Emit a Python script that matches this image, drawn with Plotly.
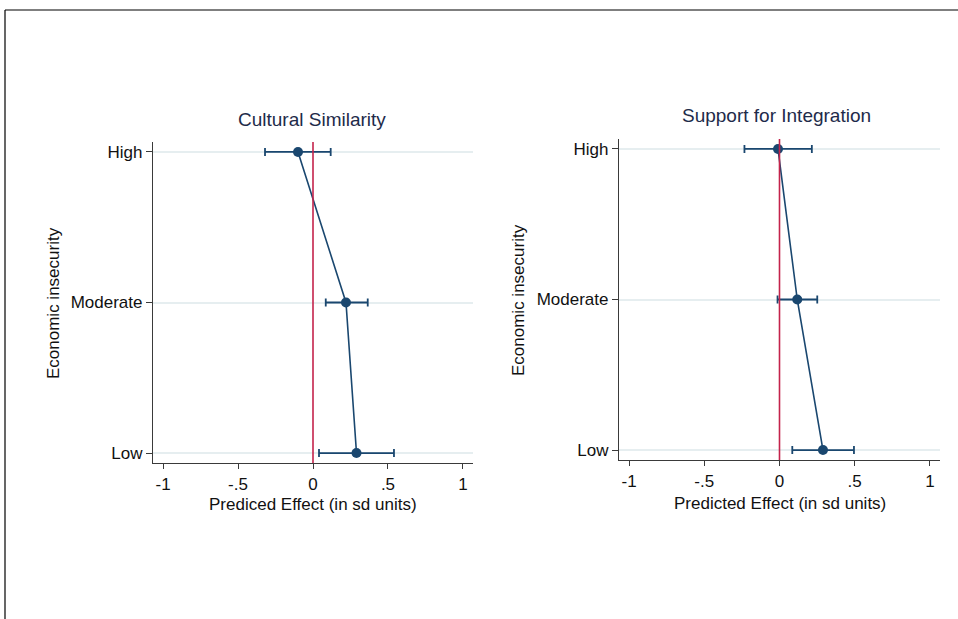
import plotly.graph_objects as go

W, H = 958, 619

levels = ["High", "Moderate", "Low"]
level_pos = [2, 1, 0]

cult_est = [-0.10, 0.22, 0.29]
cult_lo = [-0.32, 0.085, 0.04]
cult_hi = [0.118, 0.365, 0.54]

integ_est = [-0.01, 0.118, 0.289]
integ_lo = [-0.233, -0.013, 0.085]
integ_hi = [0.215, 0.251, 0.495]

xticks = [-1, -0.5, 0, 0.5, 1]
xticklabels = ["-1", "-.5", "0", ".5", "1"]

panel_titles = ["Cultural Similarity", "Support for Integration"]
x_titles = ["Prediced Effect (in sd units)", "Predicted Effect (in sd units)"]
y_title = "Economic insecurity"

NAVY = "#1a476f"
RED = "#c4234b"
GRID = "#e6eef0"
AX = "#3a3a3a"
FONT = "Liberation Sans, Arial, sans-serif"

# panel pixel boxes: left, right, top, bottom
boxes = [(153, 473, 142, 463), (619, 940, 139, 460)]

fig = go.Figure()

series = [(cult_est, cult_lo, cult_hi), (integ_est, integ_lo, integ_hi)]
for i, (est, lo, hi) in enumerate(series):
    xa = "x" if i == 0 else "x2"
    ya = "y" if i == 0 else "y2"
    fig.add_trace(go.Scatter(
        x=est, y=level_pos, mode="lines+markers",
        line=dict(color=NAVY, width=1.6),
        marker=dict(color=NAVY, size=10),
        error_x=dict(type="data", symmetric=False,
                     array=[h - e for h, e in zip(hi, est)],
                     arrayminus=[e - l for e, l in zip(est, lo)],
                     color=NAVY, thickness=1.8, width=4),
        xaxis=xa, yaxis=ya, showlegend=False, cliponaxis=False))

def frac_x(px):
    return px / W

def frac_y(py):
    return 1 - py / H

for i, (l, r, t, b) in enumerate(boxes):
    sfx = "" if i == 0 else "2"
    xax = dict(domain=[frac_x(l), frac_x(r)], range=[-1.067, 1.067],
               tickvals=xticks, ticktext=xticklabels,
               showline=True, linecolor=AX, linewidth=1.2,
               ticks="outside", ticklen=5, tickcolor=AX, tickwidth=1,
               showgrid=False, zeroline=False,
               tickfont=dict(family=FONT, size=17, color="#111"),
               anchor="y" + sfx, fixedrange=True)
    yax = dict(domain=[frac_y(b), frac_y(t)], range=[-0.066, 2.066],
               tickvals=level_pos, ticktext=levels,
               showline=True, linecolor=AX, linewidth=1.2,
               ticks="outside", ticklen=6, tickcolor=AX, tickwidth=1,
               showgrid=True, gridcolor=GRID, gridwidth=1.5,
               zeroline=False,
               tickfont=dict(family=FONT, size=17, color="#111"),
               anchor="x" + sfx, fixedrange=True)
    fig.update_layout(**{"xaxis" + sfx: xax, "yaxis" + sfx: yax})
    # red reference line at 0
    fig.add_shape(type="line", xref="x" + sfx, yref="y" + sfx + " domain",
                  x0=0, x1=0, y0=0, y1=1, line=dict(color=RED, width=1.6),
                  layer="above")

# titles
title_pos = [(312, 119), (776, 116)]
xt_pos = [(313, 504), (780, 503)]
yt_pos = [(53, 303), (518, 300)]
for i in range(2):
    fig.add_annotation(text=panel_titles[i], x=frac_x(title_pos[i][0]), y=frac_y(title_pos[i][1]),
                       xref="paper", yref="paper", showarrow=False, xanchor="center", yanchor="middle",
                       font=dict(family=FONT, size=19, color="#1e2b4a"))
    fig.add_annotation(text=x_titles[i], x=frac_x(xt_pos[i][0]), y=frac_y(xt_pos[i][1]),
                       xref="paper", yref="paper", showarrow=False, xanchor="center", yanchor="middle",
                       font=dict(family=FONT, size=17, color="#111"))
    fig.add_annotation(text=y_title, x=frac_x(yt_pos[i][0]), y=frac_y(yt_pos[i][1]),
                       xref="paper", yref="paper", showarrow=False, xanchor="center", yanchor="middle",
                       textangle=-90, font=dict(family=FONT, size=17, color="#111"))

# outer frame (top and left edges)
fig.add_shape(type="line", xref="paper", yref="paper", x0=frac_x(5), x1=1.0,
              y0=frac_y(10), y1=frac_y(10), line=dict(color="#000", width=1.2))
fig.add_shape(type="line", xref="paper", yref="paper", x0=frac_x(5), x1=frac_x(5),
              y0=0, y1=frac_y(10), line=dict(color="#000", width=1.2))

fig.update_layout(width=W, height=H, margin=dict(l=0, r=0, t=0, b=0),
                  paper_bgcolor="white", plot_bgcolor="white")

fig.write_html("out.html", config={"displayModeBar": False})
